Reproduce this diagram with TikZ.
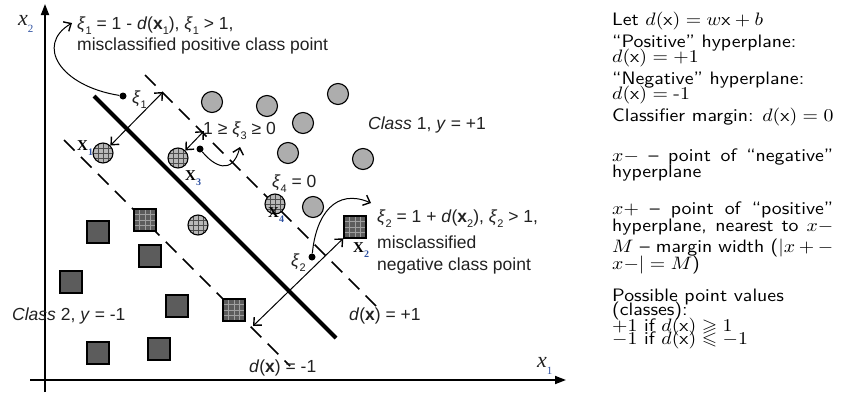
\documentclass[tikz,border=0pt]{standalone}
\usepackage[no-math]{fontspec}
\usepackage{amssymb}
\usepackage{graphicx}
\usetikzlibrary{arrows.meta,calc}
\DeclareFontShape{OML}{cmm}{m}{it}{<->cmmi10}{}
\DeclareFontShape{OMS}{cmsy}{m}{n}{<->cmsy10}{}
\DeclareFontShape{OT1}{cmr}{m}{n}{<->cmr10}{}
\DeclareFontFamily{OT1}{cmss}{}
\DeclareFontShape{OT1}{cmss}{m}{n}{<->cmss10}{}
\newfontfamily\arial{Liberation Sans}
\newfontfamily\tnr{Liberation Serif}
\newfontfamily\lmsten{lmsans10-regular.otf}[Ligatures=TeX]
\definecolor{txt}{gray}{0.13}
\definecolor{subc}{RGB}{45,80,160}
\definecolor{circc}{gray}{0.68}
\definecolor{hcircc}{gray}{0.72}
\definecolor{sqc}{gray}{0.36}
\newcommand\lsub[1]{\raisebox{-0.3em}{\fontsize{11}{11}\selectfont #1}}
\newcommand\gxi{\textit{ξ}}
\newcommand\bx{\textbf{x}}
\newcommand\Xl[1]{{\tnr\bfseries\fontsize{15}{15}\selectfont X\raisebox{-0.35em}{\fontsize{10}{10}\selectfont\color{subc}#1}}}
\newcommand\rtext[1]{\scalebox{1.1}[1]{#1}}
\newcommand\rjust[1]{\rtext{\makebox[201pt][s]{#1}}}
\newcommand\sx{\mathsf{x}}
\begin{document}
\begin{tikzpicture}[x=1pt,y=-1pt,
  lab/.style={font=\arial\fontsize{17.5}{20}\selectfont, text=txt, anchor=base west, inner sep=0pt},
  rp/.style={font=\lmsten\fontsize{18}{18}\selectfont, text=black, anchor=base west, inner sep=0pt},
  circ/.style={circle, draw=black, line width=1.1pt, fill=circc, minimum size=21pt, inner sep=0pt},
  hcirc/.style={circle, draw=black, line width=1.1pt, fill=hcircc, minimum size=20pt, inner sep=0pt,
    path picture={\foreach \f in {0.25,0.5,0.75}{
      \draw[black!70, line width=0.6pt] ($(path picture bounding box.north west)!\f!(path picture bounding box.north east)$) -- ($(path picture bounding box.south west)!\f!(path picture bounding box.south east)$);
      \draw[black!70, line width=0.6pt] ($(path picture bounding box.north west)!\f!(path picture bounding box.south west)$) -- ($(path picture bounding box.north east)!\f!(path picture bounding box.south east)$);}}},
  sq/.style={rectangle, draw=black, line width=1.4pt, fill=sqc, minimum size=22pt, inner sep=0pt},
  hsq/.style={sq,
    path picture={\foreach \f in {0.25,0.5,0.75}{
      \draw[gray!75, line width=0.7pt] ($(path picture bounding box.north west)!\f!(path picture bounding box.north east)$) -- ($(path picture bounding box.south west)!\f!(path picture bounding box.south east)$);
      \draw[gray!75, line width=0.7pt] ($(path picture bounding box.north west)!\f!(path picture bounding box.south west)$) -- ($(path picture bounding box.north east)!\f!(path picture bounding box.south east)$);}}},
  dotn/.style={circle, fill=black, minimum size=7pt, inner sep=0pt},
  axis/.style={line width=1.8pt, -{Triangle[length=11pt,width=8pt]}},
  hyper/.style={line width=1.7pt, dash pattern=on 15pt off 9pt},
  sep/.style={line width=4.2pt},
  barb/.style={line width=1pt, {Straight Barb[length=6pt,width=11pt,line width=1.4pt]}-{Straight Barb[length=6pt,width=11pt,line width=1.4pt]}},
  curv/.style={line width=1pt, -{Straight Barb[length=6pt,width=11pt,line width=1.4pt]}}
]
\useasboundingbox (0,0) rectangle (843,394);

% axes
\coordinate (ya0) at (45,392);
\coordinate (ya1) at (45,4);
\coordinate (xa0) at (30,380);
\coordinate (xa1) at (566,380);
\draw[axis] (ya0) -- (ya1);
\draw[axis] (xa0) -- (xa1);
\node[inner sep=0pt, anchor=base west, text=txt] (x2lab) at (18,25) {\tnr\itshape\fontsize{22}{22}\selectfont x\raisebox{-0.35em}{\upshape\fontsize{11}{11}\selectfont\color{subc}2}};
\node[inner sep=0pt, anchor=base west, text=txt] (x1lab) at (537,367) {\tnr\itshape\fontsize{22}{22}\selectfont x\raisebox{-0.35em}{\upshape\fontsize{11}{11}\selectfont\color{subc}1}};

% hyperplanes
\coordinate (u0) at (145,75);
\coordinate (u1) at (376,306);
\coordinate (l0) at (64,140);
\coordinate (l1) at (290,366);
\coordinate (m0) at (94,96);
\coordinate (m1) at (336,338);
\draw[hyper] (u0) -- (u1);
\draw[hyper] (l0) -- (l1);
\draw[sep] (m0) -- (m1);

% class 1 circles
\node[circ] (c1) at (212,102) {};
\node[circ] (c2) at (267,106) {};
\node[circ] (c3) at (338,94) {};
\node[circ] (c4) at (303,123) {};
\node[circ] (c5) at (288,153) {};
\node[circ] (c6) at (363,159) {};
\node[circ] (c7) at (313,207) {};
\node[hcirc] (hx1) at (103,153) {};
\node[hcirc] (hx3) at (178,158) {};
\node[hcirc] (hx4) at (275,204) {};
\node[hcirc] (hc5) at (198,225) {};

% class 2 squares
\node[sq] (s1) at (98,232) {};
\node[sq] (s2) at (150,256) {};
\node[sq] (s3) at (71,282) {};
\node[sq] (s4) at (177,306) {};
\node[sq] (s5) at (98,353) {};
\node[sq] (s6) at (159,349) {};
\node[hsq] (hs1) at (145,220) {};
\node[hsq] (hs2) at (234,310) {};
\node[hsq] (hx2) at (355,227) {};

% point labels
\node[inner sep=0pt, anchor=base west] (lx1) at (77,150) {\Xl{1}};
\node[inner sep=0pt, anchor=base west] (lx3) at (185,180) {\Xl{3}};
\node[inner sep=0pt, anchor=base west] (lx4) at (268,217) {\Xl{4}};
\node[inner sep=0pt, anchor=base west] (lx2) at (353,252) {\Xl{2}};

% slack dots
\node[dotn] (d1) at (123,96) {};
\node[dotn] (d3) at (200,149) {};
\node[dotn] (d2) at (312,257) {};

% perpendicular arrows
\coordinate (p1) at (163,92);
\coordinate (p3) at (204,131);
\coordinate (p2) at (253,326);
\draw[barb] (hx1) -- (p1);
\draw[barb] (hx3) -- (p3);
\draw[barb] (hx2) -- (p2);

% curved arrows
\coordinate (t1) at (72,23);
\coordinate (t3) at (240,147);
\coordinate (t2) at (371,203);
\draw[curv] (d1) .. controls (60,86) and (35,45) .. (t1);
\draw[curv] (d3) .. controls (214,166) and (232,176) .. (t3);
\draw[curv] (d2) .. controls (316,214) and (336,188) .. (t2);

% texts
\node[lab] (e1) at (77,29) {\gxi\lsub{1} = 1 - \textit{d}(\bx\lsub{1}), \gxi\lsub{1} > 1,};
\node[lab] (e1b) at (77,50) {misclassified positive class point};
\node[lab] (xi1) at (132,103) {\gxi\lsub{1}};
\node[lab] (xi3) at (203,134) {1 ≥ \gxi\lsub{3} ≥ 0};
\node[lab] (xi4) at (272,187) {\gxi\lsub{4} = 0};
\node[lab] (cl1) at (368,129) {\textit{Class} 1, \textit{y} = +1};
\node[lab] (e2) at (377,222) {\gxi\lsub{2} = 1 + \textit{d}(\bx\lsub{2}), \gxi\lsub{2} > 1,};
\node[lab] (e2b) at (377,248) {misclassified};
\node[lab] (e2c) at (377,270) {negative class point};
\node[lab] (xi2) at (291,266) {\gxi\lsub{2}};
\node[lab] (dp) at (349,320) {\textit{d}(\bx) = +1};
\node[lab] (dm) at (249,372) {\textit{d}(\bx) = -1};
\node[lab] (cl2) at (12,320) {\textit{Class} 2, \textit{y} = -1};

% right panel
\node[rp] (r1) at (612,25) {\rtext{Let $d(\sx) = w\sx + b$}};
\node[rp] (r2) at (612,47) {\rtext{“Positive” hyperplane:}};
\node[rp] (r3) at (612,62) {\rtext{$d(\sx) = +1$}};
\node[rp] (r4) at (612,84) {\rtext{“Negative” hyperplane:}};
\node[rp] (r5) at (612,99) {\rtext{$d(\sx) = \mbox{-}1$}};
\node[rp] (r6) at (612,121) {\rtext{Classifier margin: $d(\sx) = 0$}};
\node[rp] (r7) at (612,161) {\rjust{$x-$ – point of “negative”}};
\node[rp] (r8) at (612,177) {\rtext{hyperplane}};
\node[rp] (r9) at (612,214) {\rjust{$x+$ – point of “positive”}};
\node[rp] (r10) at (612,231) {\rjust{hyperplane, nearest to $x-$}};
\node[rp] (r11) at (612,252) {\rjust{$M$ – margin width ($|x+ -$}};
\node[rp] (r12) at (612,269) {\rtext{$x{-}| = M$)}};
\node[rp] (r13) at (612,301) {\rtext{Possible point values}};
\node[rp] (r14) at (612,315) {\rtext{(classes):}};
\node[rp] (r15) at (612,331) {\rtext{$+1$ if $d(\sx) \geqslant 1$}};
\node[rp] (r16) at (612,344) {\rtext{$-1$ if $d(\sx) \leqslant -1$}};
\end{tikzpicture}
\end{document}
